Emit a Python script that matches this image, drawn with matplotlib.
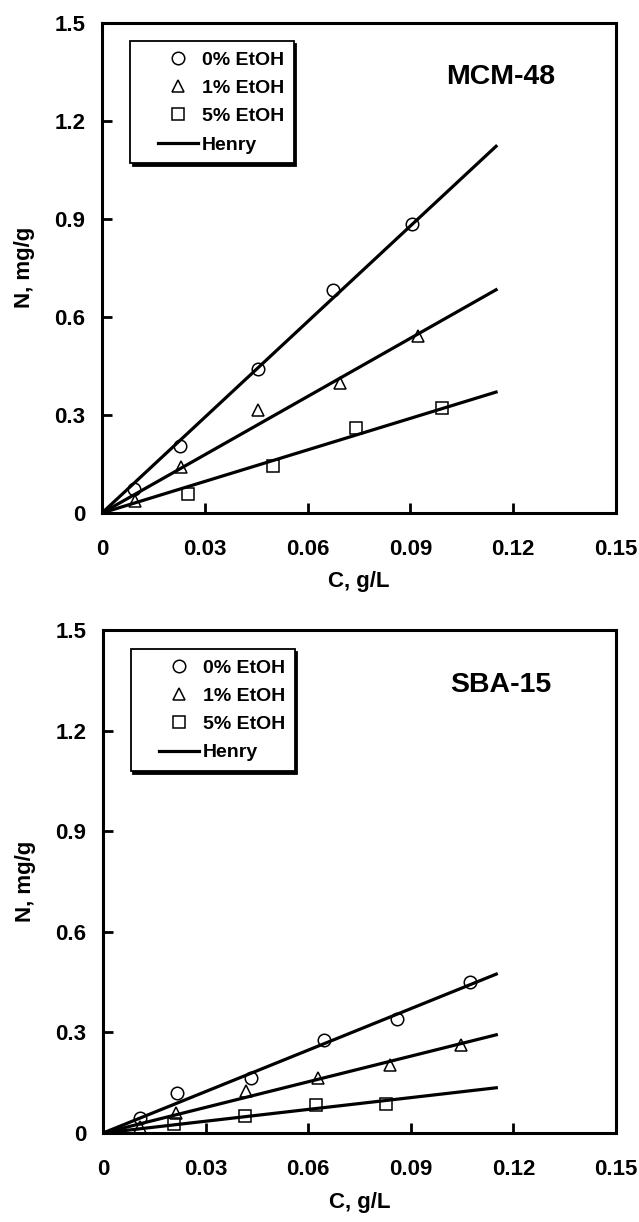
import matplotlib
matplotlib.use("Agg")
import matplotlib.pyplot as plt
from matplotlib.lines import Line2D
from matplotlib.legend_handler import HandlerLine2D

plt.rcParams['font.family'] = ['Liberation Sans', 'DejaVu Sans']
plt.rcParams['font.weight'] = 'bold'

# MCM-48 data (C in g/L, N in mg/g)
mcm_c0 = [0.0094, 0.0228, 0.0455, 0.0675, 0.0904]
mcm_n0 = [0.072, 0.206, 0.442, 0.681, 0.885]
mcm_c1 = [0.0096, 0.0231, 0.0456, 0.0694, 0.0923]
mcm_n1 = [0.038, 0.140, 0.315, 0.398, 0.541]
mcm_c5 = [0.0252, 0.0499, 0.0742, 0.0991]
mcm_n5 = [0.058, 0.144, 0.259, 0.320]
mcm_henry = [1.122, 0.683, 0.370]   # N at C = 0.115

# SBA-15 data
sba_c0 = [0.0109, 0.0216, 0.0432, 0.0646, 0.0860, 0.1073]
sba_n0 = [0.045, 0.120, 0.164, 0.278, 0.340, 0.451]
sba_c1 = [0.0107, 0.0212, 0.0419, 0.0629, 0.0839, 0.1047]
sba_n1 = [0.019, 0.060, 0.125, 0.165, 0.204, 0.263]
sba_c5 = [0.0209, 0.0415, 0.0622, 0.0827]
sba_n5 = [0.026, 0.052, 0.085, 0.088]
sba_henry = [0.474, 0.293, 0.135]

henry_c = [0.0, 0.115]

x_ticks = [0, 0.03, 0.06, 0.09, 0.12, 0.15]
x_labels = ['0', '0.03', '0.06', '0.09', '0.12', '0.15']
y_ticks = [0, 0.3, 0.6, 0.9, 1.2, 1.5]
y_labels = ['0', '0.3', '0.6', '0.9', '1.2', '1.5']
series_labels = ['0% EtOH', '1% EtOH', '5% EtOH', 'Henry']


def draw_panel(axes, data, henry, name):
    markers = ['o', '^', 's']
    handles = []
    for (c, n), m, lab in zip(data, markers, series_labels[:3]):
        h, = axes.plot(c, n, linestyle='none', marker=m, markersize=9,
                       markerfacecolor='none', markeredgecolor='black',
                       markeredgewidth=1.1, label=lab, zorder=3)
        handles.append(h)
    for k, end in enumerate(henry):
        h, = axes.plot(henry_c, [0.0, end], color='black', linewidth=2.3, zorder=2)
    handles.append(h)

    axes.set_xlim(0, 0.15)
    axes.set_ylim(0, 1.5)
    axes.set_xticks(x_ticks)
    axes.set_xticklabels(x_labels)
    axes.set_yticks(y_ticks)
    axes.set_yticklabels(y_labels)
    axes.tick_params(direction='in', length=7, width=2, labelsize=16)
    axes.tick_params(axis='x', pad=19)
    axes.tick_params(axis='y', pad=12)
    for s in axes.spines.values():
        s.set_linewidth(2.2)
    axes.set_xlabel("C, g/L", fontsize=16, fontweight='bold', labelpad=8)
    axes.set_ylabel("N, mg/g", fontsize=16, fontweight='bold', labelpad=14)
    axes.text(0.776, 0.89, name, transform=axes.transAxes, fontsize=20.5,
              fontweight='bold', ha='center', va='center')

    leg = axes.legend(handles, series_labels, loc='upper left',
                      bbox_to_anchor=(0.054, 0.962), borderaxespad=0,
                      fontsize=14, fancybox=False, edgecolor='black',
                      framealpha=1, shadow={'color': 'black', 'alpha': 1},
                      handlelength=3.0, labelspacing=0.55, handletextpad=0.2,
                      borderpad=0.5,
                      handler_map={Line2D: HandlerLine2D(xpad=0.95)})
    leg.get_frame().set_linewidth(1.3)


fig = plt.figure(figsize=(6.39, 12.22), dpi=100)
ax1 = fig.add_axes([0.1596, 0.5802, 0.8044, 0.4012])
ax2 = fig.add_axes([0.1612, 0.0728, 0.8028, 0.4116])

draw_panel(ax1, [(mcm_c0, mcm_n0), (mcm_c1, mcm_n1), (mcm_c5, mcm_n5)], mcm_henry, "MCM-48")
draw_panel(ax2, [(sba_c0, sba_n0), (sba_c1, sba_n1), (sba_c5, sba_n5)], sba_henry, "SBA-15")

plt.savefig("out.png", dpi=100)
